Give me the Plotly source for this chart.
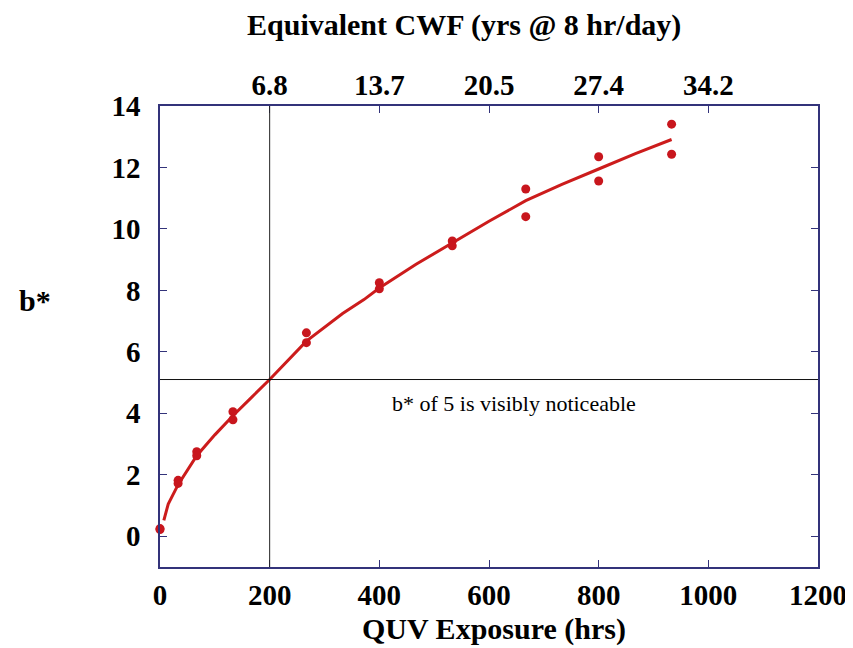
import plotly.graph_objects as go

# Measured data points (QUV exposure hours vs b*)
exposure_hrs = [0, 0, 33, 33, 67, 67, 133, 133, 267, 267, 400, 400,
                533, 533, 667, 667, 800, 800, 933, 933]
b_star = [0.25, 0.22, 1.82, 1.72, 2.75, 2.62, 4.05, 3.79, 6.62, 6.30, 8.25, 8.05,
          9.61, 9.45, 11.30, 10.40, 12.35, 11.56, 13.41, 12.43]

# Fitted trend line
fit_hrs = [7, 15, 33, 50, 67, 100, 133, 167, 200, 267, 333, 372, 400, 467,
           533, 600, 667, 733, 800, 867, 933]
fit_b = [0.52, 1.05, 1.68, 2.15, 2.62, 3.30, 3.92, 4.52, 5.10, 6.35, 7.25, 7.70,
         8.08, 8.85, 9.55, 10.25, 10.92, 11.45, 11.95, 12.45, 12.91]

x_ticks = [0, 200, 400, 600, 800, 1000, 1200]
top_tick_vals = [200, 400, 600, 800, 1000]
top_tick_text = ["6.8", "13.7", "20.5", "27.4", "34.2"]
y_ticks = [0, 2, 4, 6, 8, 10, 12, 14]

threshold_b = 5.1
threshold_hrs = 200

RED = "#c8161d"
NAVY = "#33337a"
FONT = "Liberation Serif"

fig = go.Figure()
fig.add_trace(go.Scatter(x=fit_hrs, y=fit_b, mode="lines",
                         line=dict(color="#cc1c1c", width=3), showlegend=False,
                         hoverinfo="skip"))
fig.add_trace(go.Scatter(x=exposure_hrs, y=b_star, mode="markers",
                         marker=dict(color=RED, size=9), showlegend=False,
                         cliponaxis=False))
fig.add_trace(go.Scatter(x=[None], y=[None], xaxis="x2", showlegend=False))

fig.add_shape(type="line", xref="x", yref="paper", x0=threshold_hrs, x1=threshold_hrs,
              y0=0, y1=1, line=dict(color="#222222", width=1))
fig.add_shape(type="line", xref="paper", yref="y", x0=0, x1=1,
              y0=threshold_b, y1=threshold_b, line=dict(color="#111111", width=1))

axis_font = dict(family=FONT, size=29, color="black")
title_font = dict(family=FONT, size=30, color="black")

fig.update_layout(
    width=845, height=640,
    margin=dict(l=152, r=35, t=98, b=81, autoexpand=False),
    plot_bgcolor="white", paper_bgcolor="white",
    font=dict(family=FONT, color="black"),
    xaxis=dict(range=[0, 1200], tickvals=x_ticks,
               ticktext=["<b>%d</b>" % v for v in x_ticks],
               tickfont=axis_font, ticks="inside", ticklen=7, tickcolor=NAVY,
               showline=True, linecolor=NAVY, linewidth=1.5, mirror="ticks",
               showgrid=False, zeroline=False, ticklabelstandoff=1,
               automargin=False),
    xaxis2=dict(range=[0, 1200], overlaying="x", side="top", tickvals=top_tick_vals,
                ticktext=["<b>%s</b>" % t for t in top_tick_text],
                tickfont=axis_font, ticks="", showline=False, showgrid=False,
                zeroline=False, ticklabelstandoff=4, automargin=False),
    yaxis=dict(range=[-1, 14], tickvals=y_ticks,
               ticktext=["<b>%d</b>" % v for v in y_ticks],
               tickfont=axis_font, ticks="inside", ticklen=7, tickcolor=NAVY,
               showline=True, linecolor=NAVY, linewidth=1.5, mirror="ticks",
               showgrid=False, zeroline=False, ticklabelstandoff=12,
               automargin=False),
    annotations=[
        dict(text="<b>QUV Exposure (hrs)</b>", xref="paper", yref="paper",
             x=0.508, y=0, yshift=-62, showarrow=False, yanchor="middle",
             font=title_font),
        dict(text="<b>Equivalent CWF (yrs @ 8 hr/day)</b>", xref="paper", yref="paper",
             x=0.462, y=1, yshift=81, showarrow=False, yanchor="middle",
             font=title_font),
        dict(text="<b>b*</b>", xref="paper", yref="paper", x=0, xshift=-125,
             xanchor="center", y=0.5, yshift=36, yanchor="middle",
             showarrow=False, font=title_font),
        dict(text="b* of 5 is visibly noticeable", xref="x", yref="y",
             x=646, y=threshold_b, yshift=-24, showarrow=False,
             font=dict(family=FONT, size=22, color="black")),
    ],
)

fig.write_html("out.html")
